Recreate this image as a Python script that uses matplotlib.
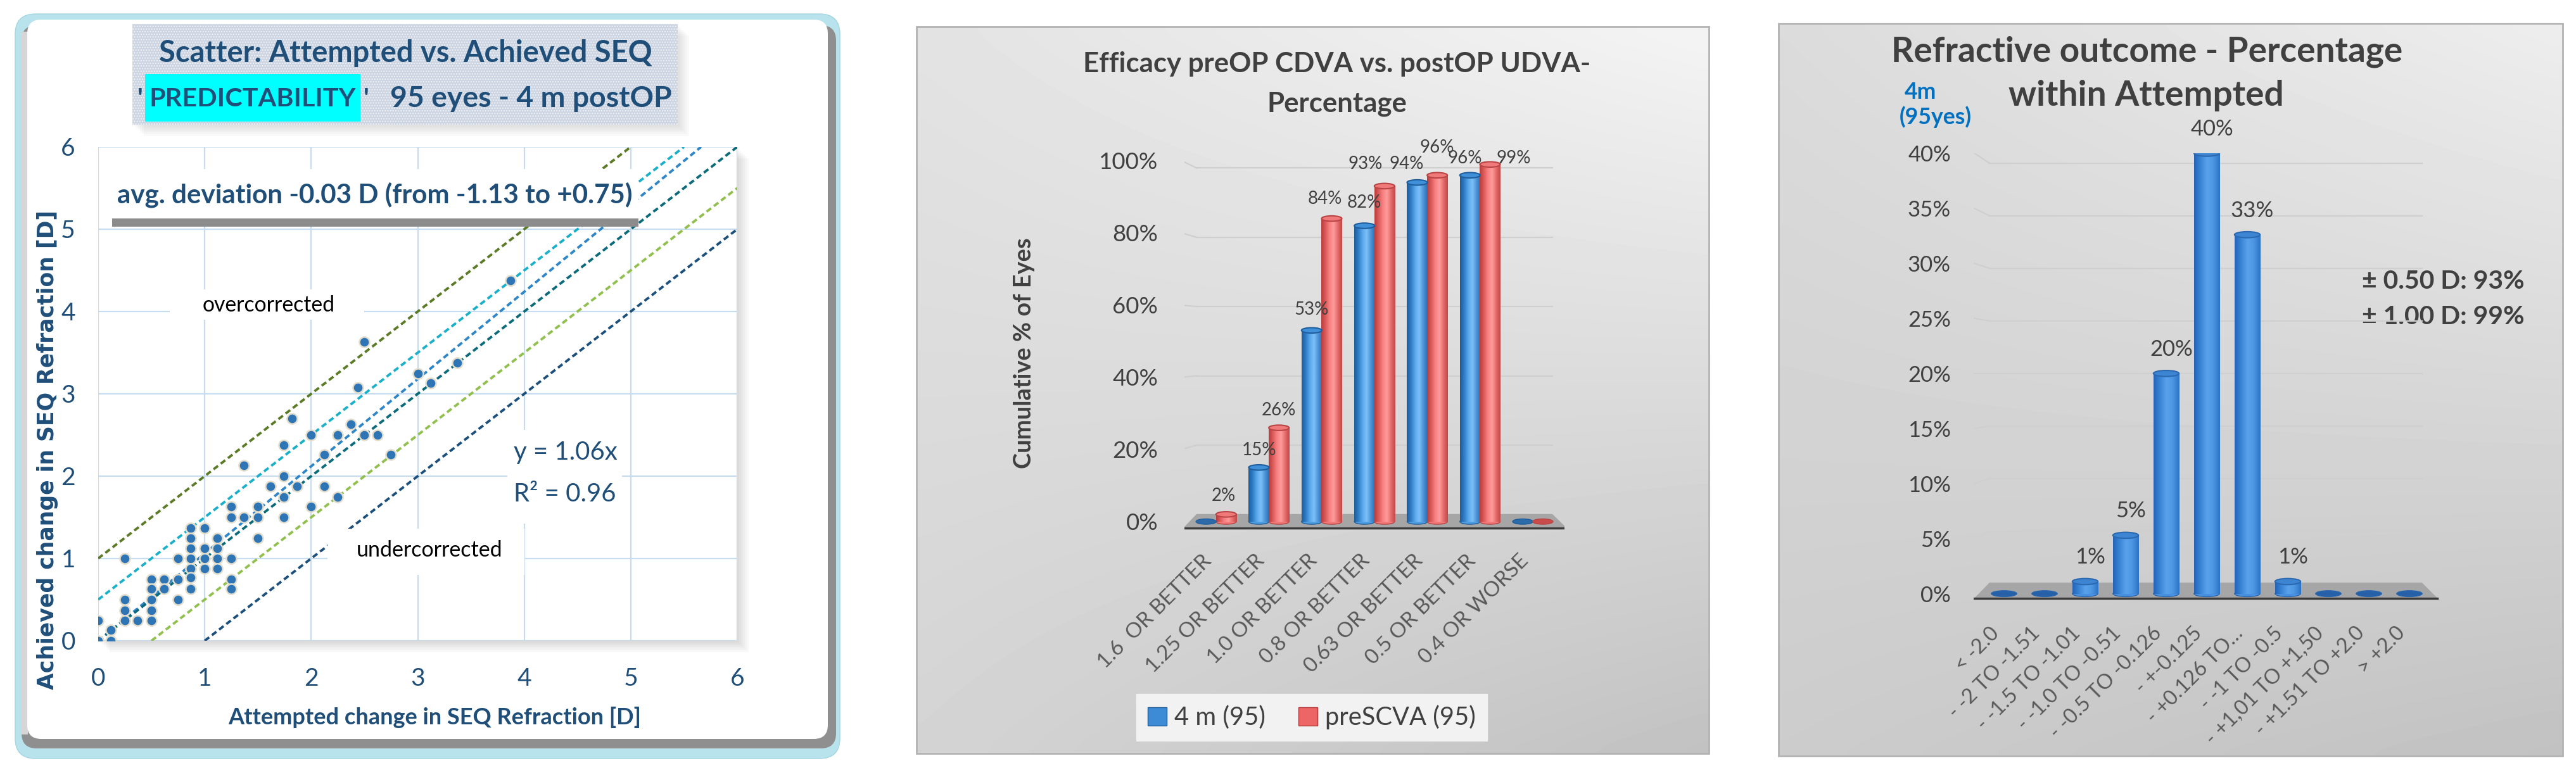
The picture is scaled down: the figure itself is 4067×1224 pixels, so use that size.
import numpy as np
import matplotlib; matplotlib.use("Agg")
import matplotlib.pyplot as plt
from matplotlib.patches import Rectangle, FancyBboxPatch, Ellipse, Polygon, Patch
from matplotlib.colors import LinearSegmentedColormap
from matplotlib.transforms import ScaledTranslation

W, H = 4067, 1224
CAL = ["Lato", "DejaVu Sans"]
NAVY = "#1f4e79"; DGRAY = "#404040"

# ---------------- data ----------------
SC_X = [0,0,0.12,0.12,0.25,0.25,0.25,0.25,0.37,0.5,0.5,0.5,0.5,0.5,0.62,0.62,0.75,0.75,0.75,
        0.87,0.87,0.87,0.87,0.87,0.87,0.87,1.0,1.0,1.0,1.0,1.12,1.12,1.12,1.12,1.25,1.25,1.25,1.25,1.25,
        1.37,1.37,1.5,1.5,1.5,1.62,1.74,1.74,1.74,1.74,1.82,1.87,2.0,2.0,2.12,2.12,2.25,2.25,2.37,2.44,
        2.5,2.5,2.62,2.75,3.0,3.12,3.37,3.87]
SC_Y = [0.25,0,0.13,0,1.0,0.5,0.37,0.25,0.25,0.75,0.63,0.5,0.37,0.25,0.75,0.63,1.0,0.75,0.5,
        1.37,1.25,1.12,1.0,0.88,0.77,0.63,1.37,1.12,1.0,0.88,1.25,1.12,1.0,0.88,1.63,1.5,1.0,0.75,0.63,
        2.13,1.5,1.63,1.5,1.25,1.88,2.38,2.0,1.75,1.5,2.7,1.88,2.5,1.63,2.26,1.88,2.5,1.75,2.63,3.08,
        3.63,2.5,2.5,2.26,3.25,3.13,3.38,4.38]
REF_INTERCEPT = [1.0, 0.5, 0.0, 0.0, -0.5, -1.0]
REF_SLOPE = [1.0, 1.0, 1.06, 1.0, 1.0, 1.0]
REF_COLORS = ["#5b7b26", "#1bb0c9", "#2e86c8", "#0b6b7a", "#92c04f", "#1b4f7c"]

EFF_CATS = ["1.6  OR BETTER", "1.25 OR BETTER", "1.0 OR BETTER", "0.8 OR BETTER",
            "0.63 OR BETTER", "0.5 OR BETTER", "0.4 OR WORSE"]
EFF_4M = [0, 15, 53, 82, 94, 96, 0]
EFF_PRE = [2, 26, 84, 93, 96, 99, 0]
EFF_SERIES = ["4 m (95)", "preSCVA (95)"]
# label nudges (pixels) to mimic the original label placement
LBL_4M_DX = [0, 0, 0, 0, -17, -8, 0]; LBL_4M_DY = [0, 27, 33, 37, 29, 27, 0]
LBL_PRE_DX = [-4, 0, -11, -30, 0, 37, 0]; LBL_PRE_DY = [29, 28, 31, 35, 44, 10, 0]

RO_CATS = ["< -2.0", "- -2 TO -1.51", "- -1.5 TO -1.01", "- -1.0 TO -0.51", "- -0.5 TO -0.126",
           "- +-0.125", "- +0.126 TO…", "- -1 TO -0.5", "- +1,01 TO +1,50", "- +1.51 TO +2.0", "> +2.0"]
RO_PCT = [0, 0, 1.1, 5.3, 20.0, 40.0, 32.6, 1.1, 0, 0, 0]

fig = plt.figure(figsize=(W/100, H/100), dpi=100)
fig.patch.set_facecolor("white")
R = fig.canvas.get_renderer()
deco = fig.add_axes([0, 0, 1, 1]); deco.axis("off"); deco.set_zorder(-5)

def fit(s, target, weight="normal", family=CAL):
    """font size (pt) giving text s a width of target pixels"""
    t = fig.text(0, 0, s, fontsize=20, fontweight=weight, family=family)
    w = t.get_window_extent(R).width; t.remove()
    return 20 * target / w

def fig_ax(x0, y0, x1, y1):
    return fig.add_axes([x0/W, 1-y1/H, (x1-x0)/W, (y1-y0)/H])

def panel_bg(x0, y0, x1, y1, tl, tr, bl, br):
    yy, xx = np.mgrid[0:1:64j, 0:1:64j]
    v = tl*(1-xx)*(1-yy) + tr*xx*(1-yy) + bl*(1-xx)*yy + br*xx*yy
    deco.imshow(v, extent=(x0, x1, y1, y0), cmap="gray", vmin=0, vmax=1, aspect="auto",
                interpolation="bicubic", zorder=0)
    deco.add_patch(Rectangle((x0, y0), x1-x0, y1-y0, fill=False, ec="#b3b3b3", lw=2, zorder=1))

def dtext(x, y, s, size, **kw):
    kw.setdefault("family", CAL); kw.setdefault("ha", "center"); kw.setdefault("va", "center")
    return deco.text(x, y, s, fontsize=size, zorder=2, **kw)

# ---------------- panel 1 frame ----------------
deco.add_patch(FancyBboxPatch((24, 22), 1302, 1176, boxstyle="round,pad=0,rounding_size=32",
                              fc="#b9e3ec", ec="#a3d5e0", lw=1, zorder=1))
deco.add_patch(FancyBboxPatch((34, 40), 1286, 1142, boxstyle="round,pad=0,rounding_size=24",
                              fc="#8f8f8f", ec="none", zorder=1.1))
deco.add_patch(Rectangle((33, 50), 11, 1110, fc="#d6d6d6", ec="none", zorder=1.2))
deco.add_patch(FancyBboxPatch((43, 31), 1264, 1136, boxstyle="round,pad=0,rounding_size=22",
                              fc="white", ec="none", zorder=1.3))
for k in range(1, 7):   # soft shadow of plot area and title box
    deco.add_patch(Rectangle((155+3*k, 232+3*k), 1009, 780, fc="black", alpha=0.025, ec="none", zorder=1.4))
    deco.add_patch(Rectangle((209+3*k, 38+3*k), 861, 159, fc="black", alpha=0.02, ec="none", zorder=1.4))
deco.add_patch(Rectangle((209, 38), 861, 159, fc="#cdd5e2", ec="#f1f3f7", hatch="....", lw=0, zorder=1.6))

fs_t1 = fit("Scatter: Attempted vs. Achieved SEQ", 779, "bold")
dtext(640, 84, "Scatter: Attempted vs. Achieved SEQ", fs_t1, fontweight="bold", color=NAVY)
fs_pr = fit("PREDICTABILITY", 326, "bold")
q1 = dtext(226, 156, "'", fs_pr, fontweight="bold", color=NAVY, ha="right")
deco.add_patch(Rectangle((229, 117), 340, 75, fc="#00ffff", ec="none", zorder=1.7))
dtext(399, 156, "PREDICTABILITY", fs_pr, fontweight="bold", color=NAVY)
dtext(574, 156, "'", fs_pr, fontweight="bold", color=NAVY, ha="left")
dtext(616, 156, "95 eyes - 4 m postOP", fit("95 eyes - 4 m postOP", 445, "bold"), fontweight="bold",
      color=NAVY, ha="left")
deco.add_patch(Rectangle((53, 320), 43, 777, fc="white", ec="none", zorder=1.8))
ylab1 = "Achieved change in SEQ Refraction [D]"
dtext(75, 710, ylab1, fit(ylab1, 757, "bold", "DejaVu Sans"), rotation=90, fontweight="bold",
      color=NAVY, family="DejaVu Sans")
deco.add_patch(Rectangle((349, 1105), 674, 56, fc="white", ec="none", zorder=1.8))
xlab1 = "Attempted change in SEQ Refraction [D]"
dtext(686, 1133, xlab1, fit(xlab1, 652, "bold"), fontweight="bold", color=NAVY)

# ---------------- panel 2 / 3 backgrounds and titles ----------------
panel_bg(1447, 42, 2698, 1190, 0.89, 0.955, 0.83, 0.76)
panel_bg(2808, 37, 4046, 1194, 0.86, 0.93, 0.80, 0.76)
fs_t2 = fit("Efficacy preOP CDVA vs. postOP UDVA-", 802, "bold")
dtext(2111, 101, "Efficacy preOP CDVA vs. postOP UDVA-", fs_t2, fontweight="bold", color=DGRAY)
dtext(2111, 164, "Percentage", fs_t2, fontweight="bold", color=DGRAY)
dtext(1617, 558, "Cumulative % of Eyes", fit("Cumulative % of Eyes", 365, "bold"), rotation=90,
      fontweight="bold", color=DGRAY)
fs_t3 = fit("Refractive outcome - Percentage", 807, "bold")
dtext(3390, 82, "Refractive outcome - Percentage", fs_t3, fontweight="bold", color=DGRAY)
dtext(3388, 151, "within Attempted", fs_t3, fontweight="bold", color=DGRAY)
fs_n = fit("(95yes)", 114, "bold")
dtext(3032, 146, "4m", fs_n, fontweight="bold", color="#0070c0")
dtext(3056, 185, "(95yes)", fs_n, fontweight="bold", color="#0070c0")
fs_pm = fit("± 0.50 D: 93%", 257, "bold")
dtext(3729, 445, "± 0.50 D: 93%", fs_pm, fontweight="bold", color=DGRAY, ha="left")
dtext(3729, 500, "± 1.00 D: 99%", fs_pm, fontweight="bold", color=DGRAY, ha="left")
deco.set_xlim(0, W); deco.set_ylim(H, 0)

# ---------------- panel 1: scatter ----------------
ax1 = fig_ax(155, 232, 1164, 1012)
ax1.set_facecolor("white")
ax1.set_xlim(0, 6); ax1.set_ylim(0, 6)
ax1.set_xticks(range(7)); ax1.set_yticks(range(7))
ax1.grid(True, color="#c8dcef", lw=1.6); ax1.set_axisbelow(True)
for s in ax1.spines.values(): s.set_visible(False)
ax1.tick_params(length=0, labelsize=28, labelcolor=NAVY)
ax1.tick_params(axis="x", pad=30); ax1.tick_params(axis="y", pad=26)
for t in ax1.get_xticklabels() + ax1.get_yticklabels(): t.set_family(CAL)
for b, m, c in zip(REF_INTERCEPT, REF_SLOPE, REF_COLORS):
    ax1.axline((0, b), slope=m, color=c, lw=2.8, ls=(0, (2.3, 1.4)), zorder=2)
ax1.scatter(SC_X, SC_Y, s=135, color="#2e75b6", edgecolors="#e3ddcc", linewidths=1.8, zorder=3)
ax1.add_patch(Rectangle((0.13, 5.13), 4.94, 0.60, fc="white", ec="none", zorder=4))
ax1.add_patch(Rectangle((0.13, 5.03), 4.94, 0.10, fc="#8c8c8c", ec="none", zorder=4))
avg = "avg. deviation -0.03 D (from -1.13 to +0.75)"
ax1.text(0.18, 5.42, avg, ha="left", va="center", fontsize=fit(avg, 814, "bold"),
         fontweight="bold", color=NAVY, family=CAL, zorder=5)
ax1.add_patch(Rectangle((0.67, 3.90), 1.83, 0.37, fc="white", ec="none", zorder=4))
ax1.text(1.6, 4.08, "overcorrected", ha="center", va="center", fontsize=fit("overcorrected", 210),
         color="black", family=CAL, zorder=5)
ax1.add_patch(Rectangle((2.15, 0.80), 1.85, 0.56, fc="white", ec="none", zorder=4))
ax1.text(3.11, 1.10, "undercorrected", ha="center", va="center", fontsize=fit("undercorrected", 232),
         color="black", family=CAL, zorder=5)
ax1.add_patch(Rectangle((3.84, 1.42), 1.08, 1.14, fc="white", ec="none", zorder=4))
fs_eq = fit("y = 1.06x", 164)
ax1.text(3.9, 2.29, "y = 1.06x", ha="left", va="center", fontsize=fs_eq, color=NAVY, family=CAL, zorder=5)
ax1.text(3.9, 1.78, "R² = 0.96", ha="left", va="center", fontsize=fs_eq, color=NAVY, family=CAL, zorder=5)

# ---------------- cylinder helper ----------------
def cylinders(ax, xs, vals, width, cmap, cap_fc, cap_ec, cap_h, zero_fc):
    bars = ax.bar(xs, vals, width, color=cmap(0.5), lw=0, zorder=3)
    grad = np.linspace(0, 1, 128)[None, :]
    for b in bars:
        x0, w, h = b.get_x(), b.get_width(), b.get_height()
        cx = x0 + w/2
        if h > 0:
            ax.add_patch(Ellipse((cx, 0), w, cap_h, fc=cmap(0.35), ec=cap_ec, lw=1, zorder=2.9))
            im = ax.imshow(grad, extent=(x0, x0+w, 0, h), cmap=cmap, aspect="auto",
                           interpolation="bicubic", zorder=3.5)
            im.set_clip_path(b)
            ax.add_patch(Ellipse((cx, h), w, cap_h, fc=cap_fc, ec=cap_ec, lw=1.5, zorder=4))
        else:
            ax.add_patch(Ellipse((cx, 0), w, cap_h, fc=zero_fc, ec=cap_ec, lw=1, zorder=4))
    return bars

def wall_grid(ax, ticks, x_left, x_wall0, x_wall1, off, scale):
    for v in ticks:
        yw = off + scale*v
        ax.plot([x_left, x_wall0], [v, yw], color="#cfcfcf", lw=1.6, zorder=1)
        ax.plot([x_wall0, x_wall1], [yw, yw], color="#cfcfcf", lw=1.6, zorder=1)

def shift_labels(ax, dx_px):
    for t in ax.get_xticklabels():
        t.set_transform(t.get_transform() + ScaledTranslation(dx_px/100, 0, fig.dpi_scale_trans))

BLUE_CM = LinearSegmentedColormap.from_list("b", ["#1d5c99", "#2f7cc6", "#5aa8ea", "#7cc0f8", "#4d94d8", "#2a6eb0"])
RED_CM = LinearSegmentedColormap.from_list("r", ["#b83c3c", "#dc5a5a", "#f88282", "#ff9c9c", "#e56a6a", "#c04848"])
BLUE3_CM = LinearSegmentedColormap.from_list("b3", ["#2463b6", "#3a84d6", "#5aa2ec", "#4c95e2", "#2e72c4"])

# ---------------- panel 2: efficacy ----------------
ax2 = fig_ax(1870, 254, 2470, 838)
ax2.set_facecolor("none")
for s in ax2.spines.values(): s.set_visible(False)
wall_grid(ax2, [20, 40, 60, 80, 100], -0.65, -0.37, 6.37, 2.0, 0.96)
ax2.add_patch(Polygon([(-0.62, -1.75), (6.64, -1.75), (6.37, 2.1), (-0.37, 2.1)], closed=True,
                      fc="#a6a6a6", ec="none", zorder=2))
ax2.plot([-0.62, 6.64], [-1.75, -1.75], color="#3a3a3a", lw=2.5, zorder=2.1)
x = np.arange(len(EFF_CATS))
b4 = cylinders(ax2, x-0.19, EFF_4M, 0.385, BLUE_CM, "#3f8fd9", "#1e5e9c", 1.5, "#2d6aa8")
bp = cylinders(ax2, x+0.19, EFF_PRE, 0.385, RED_CM, "#f07a7a", "#b94444", 1.5, "#c94c4c")
fs_v2 = fit("53%", 54)
for bars, vals, dxs, dys in [(b4, EFF_4M, LBL_4M_DX, LBL_4M_DY), (bp, EFF_PRE, LBL_PRE_DX, LBL_PRE_DY)]:
    for b, v, dx, dy in zip(bars, vals, dxs, dys):
        if v > 0:
            ax2.annotate(f"{v}%", (b.get_x()+b.get_width()/2, v), xytext=(dx, dy), textcoords="offset pixels",
                         ha="center", va="center", fontsize=fs_v2, color=DGRAY, family=CAL, zorder=6)
ax2.set_xlim(-0.6, 6.6); ax2.set_ylim(-2.5, 100)
ax2.set_yticks([0, 20, 40, 60, 80, 100], [f"{v}%" for v in [0, 20, 40, 60, 80, 100]])
ax2.set_xticks(x, EFF_CATS, rotation=45, ha="right", va="center", rotation_mode="anchor")
ax2.tick_params(length=0, colors=DGRAY)
ax2.tick_params(axis="y", labelsize=fit("100%", 93), pad=30)
ax2.tick_params(axis="x", labelsize=fit("0.63 OR BETTER", 250), pad=31, labelcolor="#595959")
for t in ax2.get_xticklabels() + ax2.get_yticklabels(): t.set_family(CAL)
shift_labels(ax2, -12)
fs_lg = fit("4 m (95)", 144)
ax2.legend(handles=[Patch(fc="#3d8ad6", ec="#1f5c99"), Patch(fc="#ee6565", ec="#b33a3a")], labels=EFF_SERIES,
           ncol=2, loc="center", bbox_to_anchor=(2071/W, 1-1133/H), bbox_transform=fig.transFigure,
           frameon=True, fancybox=False, facecolor="#f2f2f2", edgecolor="#f2f2f2", framealpha=1,
           prop={"family": CAL, "size": fs_lg}, labelcolor=DGRAY, handlelength=0.75, handleheight=0.75,
           handletextpad=0.3, columnspacing=1.3, borderpad=0.45)

# ---------------- panel 3: refractive outcome ----------------
ax3 = fig_ax(3116, 242, 3852, 955)
ax3.set_facecolor("none")
for s in ax3.spines.values(): s.set_visible(False)
wall_grid(ax3, [5, 10, 15, 20, 25, 30, 35, 40], -0.73, -0.36, 10.31, 0.9, 0.955)
ax3.add_patch(Polygon([(-0.73, -0.4), (10.69, -0.4), (10.31, 1.0), (-0.36, 1.0)], closed=True,
                      fc="#a6a6a6", ec="none", zorder=2))
ax3.plot([-0.73, 10.69], [-0.4, -0.4], color="#3a3a3a", lw=2.5, zorder=2.1)
x3 = np.arange(len(RO_CATS))
b3 = cylinders(ax3, x3, RO_PCT, 0.63, BLUE3_CM, "#3d84d2", "#2a68b0", 0.55, "#2560a8")
fs_v3 = fit("40%", 68)
for b, v in zip(b3, RO_PCT):
    if v > 0:
        ax3.annotate(f"{v:.0f}%", (b.get_x()+b.get_width()/2, v), xytext=(8, 38), textcoords="offset pixels",
                     ha="center", va="center", fontsize=fs_v3, color=DGRAY, family=CAL, zorder=6)
ax3.set_xlim(-0.75, 10.75); ax3.set_ylim(-1, 40)
ax3.set_yticks(range(0, 41, 5), [f"{v}%" for v in range(0, 41, 5)])
ax3.set_xticks(x3, RO_CATS, rotation=45, ha="right", va="center", rotation_mode="anchor")
ax3.tick_params(length=0, colors=DGRAY)
ax3.tick_params(axis="y", labelsize=fit("40%", 68), pad=26)
ax3.tick_params(axis="x", labelsize=fit("- -0.5 TO -0.126", 236), pad=29, labelcolor="#595959")
for t in ax3.get_xticklabels() + ax3.get_yticklabels(): t.set_family(CAL)
shift_labels(ax3, -12)

fig.savefig("out.png", dpi=100)
